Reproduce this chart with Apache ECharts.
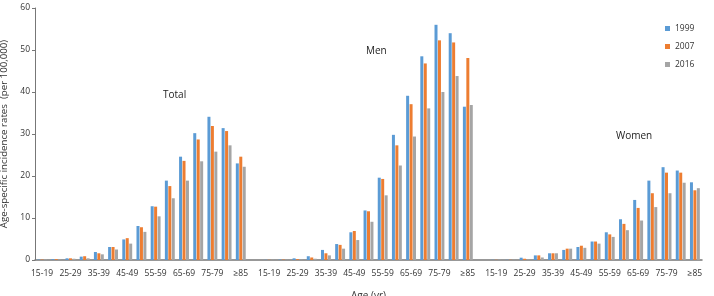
<!DOCTYPE html>
<html>
<head>
<meta charset="utf-8">
<script src="https://cdn.jsdelivr.net/npm/echarts@6/dist/echarts.min.js"></script>
<style>
  html, body { margin: 0; padding: 0; background: #fff; }
  #chart { width: 714px; height: 296px; }
</style>
</head>
<body>
<div id="chart"></div>
<script>
// age bands, repeated for Total / Men / Women with an empty slot between groups
var ageBands = ['15-19', '20-24', '25-29', '30-34', '35-39', '40-44', '45-49', '50-54',
  '55-59', '60-64', '65-69', '70-74', '75-79', '80-84', '\u226585']
var years = ['1999', '2007', '2016']
var groupNames = ['Total', 'Men', 'Women']

// rates per 100,000
var total1999 = [0.1, 0.2, 0.4, 0.8, 1.9, 3.1, 4.9, 8.1, 12.8, 18.9, 24.6, 30.2, 34.1, 31.4, 23.0]
var total2007 = [0.1, 0.2, 0.4, 0.9, 1.6, 3.1, 5.2, 7.8, 12.7, 17.6, 23.6, 28.7, 31.9, 30.7, 24.6]
var total2016 = [0.1, 0.1, 0.3, 0.4, 1.35, 2.5, 3.9, 6.7, 10.4, 14.7, 18.9, 23.5, 25.8, 27.3, 22.2]

var men1999 = [0.05, 0.1, 0.4, 0.9, 2.4, 3.8, 6.6, 11.8, 19.6, 29.8, 39.1, 48.5, 56.0, 54.0, 36.5]
var men2007 = [0.05, 0.1, 0.2, 0.6, 1.6, 3.6, 6.9, 11.6, 19.3, 27.3, 37.1, 46.8, 52.3, 51.8, 48.1]
var men2016 = [0.05, 0.05, 0.1, 0.3, 1.1, 2.7, 4.75, 9.1, 15.4, 22.5, 29.4, 36.1, 40.0, 43.8, 36.9]

var women1999 = [0.05, 0.05, 0.55, 1.1, 1.6, 2.4, 3.1, 4.4, 6.6, 9.7, 14.3, 18.9, 22.1, 21.3, 18.5]
var women2007 = [0.05, 0.05, 0.3, 1.1, 1.6, 2.7, 3.4, 4.4, 6.1, 8.6, 12.4, 15.9, 20.8, 20.8, 16.6]
var women2016 = [0.05, 0.05, 0.1, 0.6, 1.6, 2.7, 2.9, 3.9, 5.5, 7.1, 9.4, 12.6, 15.9, 18.4, 17.1]

var yTicks = [0, 10, 20, 30, 40, 50, 60]

// join the three groups, with a blank category between them
function joinGroups(a, b, c, blank) {
  return a.concat([blank], b, [blank], c)
}
var categories = joinGroups(ageBands, ageBands, ageBands, '')
var seriesData = [
  joinGroups(total1999, men1999, women1999, '-'),
  joinGroups(total2007, men2007, women2007, '-'),
  joinGroups(total2016, men2016, women2016, '-')
]

var font = '"Open Sans", "Noto Sans", sans-serif'
var myChart = echarts.init(document.getElementById('chart'))
var option = {
  backgroundColor: '#ffffff',
  animation: false,
  color: ['#5b9bd5', '#ed7d31', '#a5a5a5'],
  textStyle: { fontFamily: font },
  grid: { left: 35, right: 12, top: 8, bottom: 36, outerBoundsMode: 'none', containLabel: false },
  legend: {
    data: years,
    orient: 'vertical',
    left: 660,
    top: 19,
    itemWidth: 5,
    itemHeight: 5,
    itemGap: 9,
    icon: 'rect',
    textStyle: { fontSize: 8.5, color: '#333', fontFamily: font }
  },
  xAxis: {
    type: 'category',
    data: categories,
    name: 'Age (yr)',
    nameLocation: 'middle',
    nameGap: 31,
    nameTextStyle: { fontSize: 10, color: '#333', fontFamily: font },
    axisLine: { lineStyle: { color: '#777', width: 1.5 } },
    axisTick: { show: false },
    axisLabel: { interval: 1, fontSize: 8.5, color: '#333', margin: 9, fontFamily: font }
  },
  yAxis: {
    type: 'value',
    min: yTicks[0],
    max: yTicks[yTicks.length - 1],
    interval: 10,
    name: 'Age-specific incidence rates  (per 100,000)',
    nameLocation: 'middle',
    nameGap: 23,
    nameTextStyle: { fontSize: 9.7, color: '#333', fontFamily: font },
    axisLine: { show: true, lineStyle: { color: '#777', width: 1 } },
    axisTick: { show: true, length: 3, lineStyle: { color: '#777' } },
    splitLine: { show: false },
    axisLabel: { fontSize: 8.5, color: '#333', margin: 5, fontFamily: font }
  },
  graphic: [
    { type: 'text', left: 163, top: 90, style: { text: groupNames[0], fontSize: 10, fill: '#222', fontFamily: font } },
    { type: 'text', left: 366, top: 46, style: { text: groupNames[1], fontSize: 10, fill: '#222', fontFamily: font } },
    { type: 'text', left: 616, top: 131, style: { text: groupNames[2], fontSize: 10, fill: '#222', fontFamily: font } }
  ],
  series: years.map(function(y, i) {
    return {
      name: y,
      type: 'bar',
      barWidth: 3,
      barGap: '15%',
      data: seriesData[i]
    }
  })
}
myChart.setOption(option, true)
</script>
</body>
</html>
